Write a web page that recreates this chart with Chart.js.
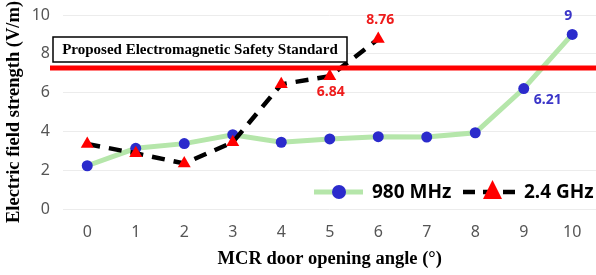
<!DOCTYPE html>
<html><head><meta charset="utf-8">
<script src="https://cdn.jsdelivr.net/npm/chart.js@4.4.1/dist/chart.umd.min.js"></script>
<style>
html,body{margin:0;padding:0;overflow:hidden;background:#fff;width:596px;height:275px}
#wrap{position:relative;width:604px;height:275px}
</style></head>
<body><div id="wrap"><canvas id="c"></canvas></div>
<script>
const angles = ['0','1','2','3','4','5','6','7','8','9','10'];
const mhz980 = [2.23, 3.13, 3.37, 3.83, 3.44, 3.61, 3.73, 3.71, 3.93, 6.21, 9];
const ghz24 = [3.35, 2.87, 2.35, 3.44, 6.43, 6.84, 8.76, null, null, null, null];
const seriesNames = ['980 MHz', '2.4 GHz'];
const labeled980 = [9, 10];
const labeled24 = [5, 6];
const safetyStandard = 7.27;
const safetyLabel = 'Proposed Electromagnetic Safety Standard';
const xTitle = 'MCR door opening angle (°)';
const yTitle = 'Electric field strength (V/m)';

const GREEN = '#b5e6aa', BLUE = '#2b2bcc', RED = '#ff0000', BLACK = '#000000';
const LBL_RED = '#ee1c1c', LBL_BLUE = '#3b35c8';

const overlay = {
  id: 'overlay',
  afterDatasetsDraw(chart) {
    const ctx = chart.ctx;
    const y = chart.scales.y;
    const ly = y.getPixelForValue(safetyStandard);
    ctx.save();
    ctx.strokeStyle = RED; ctx.lineWidth = 5;
    ctx.beginPath(); ctx.moveTo(50, ly); ctx.lineTo(604, ly); ctx.stroke();
    ctx.fillStyle = '#fff'; ctx.fillRect(53, 37, 294, 25);
    ctx.strokeStyle = '#000'; ctx.lineWidth = 1.5; ctx.strokeRect(53, 37, 294, 25);
    ctx.fillStyle = '#000'; ctx.font = 'bold 15px "Liberation Serif"';
    ctx.textAlign = 'center'; ctx.textBaseline = 'middle';
    ctx.fillText(safetyLabel, 200, 50);
    ctx.font = 'bold 14px "Noto Sans"';
    const m0 = chart.getDatasetMeta(0).data, m1 = chart.getDatasetMeta(1).data;
    const off980 = {9: [24, 11], 10: [-4, -18]};
    const off24 = {5: [1, 16], 6: [2, -19]};
    ctx.fillStyle = LBL_BLUE;
    labeled980.forEach(i => { const p = m0[i]; const o = off980[i]; ctx.fillText(String(mhz980[i]), p.x + o[0], p.y + o[1]); });
    ctx.fillStyle = LBL_RED;
    labeled24.forEach(i => { const p = m1[i]; const o = off24[i]; ctx.fillText(String(ghz24[i]), p.x + o[0], p.y + o[1]); });
    const gy = 192;
    ctx.lineWidth = 5; ctx.strokeStyle = GREEN; ctx.lineCap = 'butt';
    ctx.beginPath(); ctx.moveTo(314, gy); ctx.lineTo(363, gy); ctx.stroke();
    ctx.fillStyle = BLUE; ctx.beginPath(); ctx.arc(339, gy, 7, 0, Math.PI * 2); ctx.fill();
    ctx.fillStyle = '#000'; ctx.textAlign = 'left'; ctx.font = 'bold 19px "Noto Sans"';
    ctx.fillText(seriesNames[0], 372, gy + 1);
    ctx.strokeStyle = BLACK; ctx.lineWidth = 4.5; ctx.setLineDash([12, 8]);
    ctx.beginPath(); ctx.moveTo(463, gy); ctx.lineTo(517, gy); ctx.stroke();
    ctx.setLineDash([]);
    ctx.fillStyle = RED; ctx.beginPath();
    ctx.moveTo(492.5, 180); ctx.lineTo(502, 199); ctx.lineTo(483, 199); ctx.closePath(); ctx.fill();
    ctx.fillStyle = '#000'; ctx.fillText(seriesNames[1], 524, gy + 1);
    ctx.restore();
  }
};

new Chart(document.getElementById('c'), {
  type: 'line',
  data: {
    labels: angles,
    datasets: [
      { label: seriesNames[0], data: mhz980, order: 2, borderColor: GREEN, borderWidth: 5,
        pointRadius: 5.5, pointBackgroundColor: BLUE, pointBorderWidth: 0, tension: 0 },
      { label: seriesNames[1], data: ghz24, order: 1, borderColor: BLACK, borderWidth: 4.5,
        borderDash: [13, 9], pointStyle: 'triangle', pointRadius: 7.5, pointBackgroundColor: RED,
        pointBorderWidth: 0, tension: 0, spanGaps: false }
    ]
  },
  options: {
    responsive: true, maintainAspectRatio: false, animation: false, devicePixelRatio: 1,
    layout: { padding: { top: 15, right: 0, left: 0, bottom: 0 } },
    plugins: { legend: { display: false }, tooltip: { enabled: false } },
    scales: {
      x: {
        offset: true,
        grid: { display: false, drawTicks: false },
        border: { display: false },
        ticks: { color: '#555555', font: { family: 'Noto Sans', size: 16 }, padding: 14 },
        title: { display: true, text: xTitle, color: '#000',
          font: { family: 'Liberation Serif', size: 18.5, weight: 'bold' }, padding: { top: 0, bottom: 5 } },
        afterFit(s) { s.height = 66; s.paddingLeft = 0; s.paddingRight = 0; }
      },
      y: {
        min: 0, max: 10,
        grid: { color: '#ececec', lineWidth: 1, drawTicks: false },
        border: { display: false },
        ticks: { stepSize: 2, color: '#555555', font: { family: 'Noto Sans', size: 16 }, padding: 13 },
        title: { display: true, text: yTitle, color: '#000',
          font: { family: 'Liberation Serif', size: 18.5, weight: 'bold' }, padding: { top: 3, bottom: 0 } },
        afterFit(s) { s.width = 63; s.paddingTop = 0; s.paddingBottom = 0; }
      }
    }
  },
  plugins: [overlay]
});
</script></body></html>
